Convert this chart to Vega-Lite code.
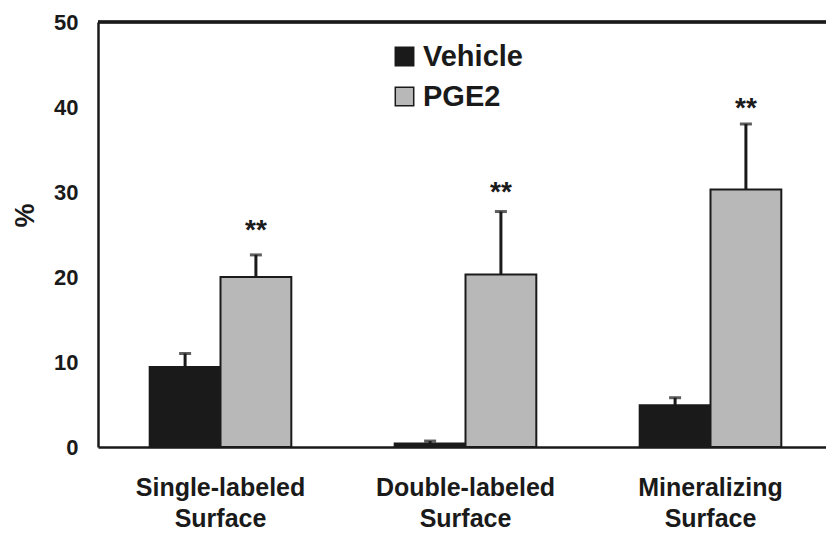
{
  "$schema": "https://vega.github.io/schema/vega-lite/v6.json",
  "width": 728,
  "height": 425,
  "autosize": "none",
  "padding": {"left": 98, "top": 22, "right": 0, "bottom": 86},
  "background": "white",
  "config": {
    "view": {"stroke": null},
    "font": "Liberation Sans",
    "axis": {"labelFont": "Liberation Sans", "titleFont": "Liberation Sans", "labelFontWeight": "bold", "titleFontWeight": "bold", "labelColor": "#1a1a1a", "titleColor": "#1a1a1a"},
    "legend": {"labelFont": "Liberation Sans", "labelFontWeight": "bold"}
  },
  "data": {
    "values": [
      {"measure": "Single-labeled Surface", "group": "Vehicle", "value": 9.4, "upper": 11.0, "star": null},
      {"measure": "Single-labeled Surface", "group": "PGE2", "value": 20.0, "upper": 22.6, "star": 26.1},
      {"measure": "Double-labeled Surface", "group": "Vehicle", "value": 0.4, "upper": 0.7, "star": null},
      {"measure": "Double-labeled Surface", "group": "PGE2", "value": 20.3, "upper": 27.7, "star": 30.6},
      {"measure": "Mineralizing Surface", "group": "Vehicle", "value": 4.9, "upper": 5.8, "star": null},
      {"measure": "Mineralizing Surface", "group": "PGE2", "value": 30.3, "upper": 38.0, "star": 40.5}
    ]
  },
  "encoding": {
    "x": {
      "field": "measure", "type": "nominal", "sort": null,
      "scale": {"paddingInner": 0, "paddingOuter": 0, "range": [0, 735]},
      "axis": {"title": null, "labelAngle": 0, "labelExpr": "split(datum.label, ' ')", "labelFontSize": 25, "labelLineHeight": 31, "labelPadding": 28, "ticks": false, "domainColor": "#1a1a1a", "domainWidth": 2.5, "labelLimit": 300}
    },
    "xOffset": {"field": "group", "type": "nominal", "sort": ["Vehicle", "PGE2"], "scale": {"paddingInner": 0, "paddingOuter": 0.73}}
  },
  "layer": [
    {
      "mark": {"type": "bar", "stroke": "#1a1a1a", "strokeWidth": 2},
      "encoding": {
        "y": {"field": "value", "type": "quantitative", "scale": {"domain": [0, 50]},
          "axis": {"title": "%", "titleFontSize": 27, "titleAngle": -90, "titleBaseline": "middle", "titleX": -73, "titleY": 193, "values": [0, 10, 20, 30, 40, 50], "labelFontSize": 22, "labelPadding": 20, "ticks": false, "grid": false, "domainColor": "#1a1a1a", "domainWidth": 2.5}},
        "fill": {"field": "group", "type": "nominal", "sort": ["Vehicle", "PGE2"],
          "scale": {"domain": ["Vehicle", "PGE2"], "range": ["#1a1a1a", "#b8b8b8"]},
          "legend": {"title": null, "orient": "none", "legendX": 292, "legendY": 20, "symbolType": "square", "symbolSize": 340, "symbolStrokeColor": "#1a1a1a", "symbolStrokeWidth": 1.5, "labelFontSize": 29, "rowPadding": 10, "labelOffset": 4, "labelColor": "#1a1a1a"}}
      }
    },
    {
      "mark": {"type": "rule", "color": "#1a1a1a", "strokeWidth": 3},
      "encoding": {"y": {"field": "value", "type": "quantitative"}, "y2": {"field": "upper"}}
    },
    {
      "mark": {"type": "tick", "color": "#1a1a1a", "thickness": 3, "size": 12},
      "encoding": {"y": {"field": "upper", "type": "quantitative"}}
    },
    {
      "transform": [{"filter": "datum.star != null"}],
      "mark": {"type": "text", "text": "**", "fontSize": 28, "fontWeight": "bold", "color": "#1a1a1a", "baseline": "middle", "dy": 6},
      "encoding": {"y": {"field": "star", "type": "quantitative"}}
    },
    {
      "mark": {"type": "rule", "color": "#1a1a1a", "strokeWidth": 2.5},
      "encoding": {"y": {"datum": 50}, "x": {"value": 0}, "x2": {"value": 728}, "xOffset": null}
    }
  ]
}
